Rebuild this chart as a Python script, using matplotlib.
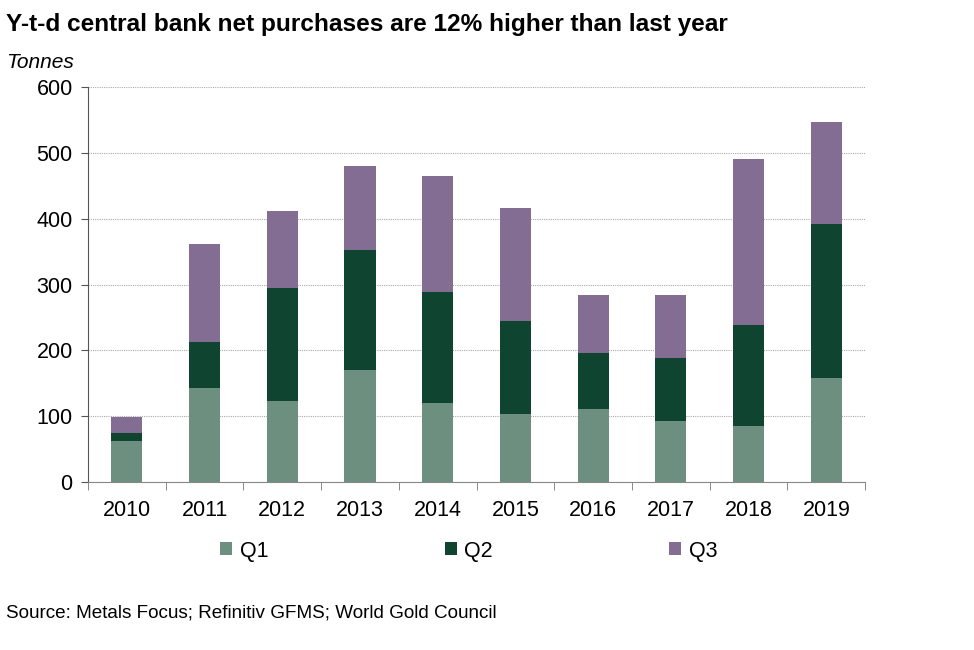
import numpy as np
import matplotlib
matplotlib.use("Agg")
import matplotlib.pyplot as plt
from matplotlib.ticker import FixedLocator

plt.rcParams["font.family"] = ["Liberation Sans", "DejaVu Sans"]

# -------------------------
# Data (tonnes)
# -------------------------
years = ["2010", "2011", "2012", "2013", "2014", "2015", "2016", "2017", "2018", "2019"]
q1 = [62, 143, 123, 170, 120, 103, 111, 93, 85, 158]
q2 = [12, 70, 172, 183, 169, 142, 85, 95, 154, 234]
q3 = [25, 149, 117, 127, 176, 171, 88, 96, 252, 155]

col_q1 = "#6d8f7f"
col_q2 = "#0e4430"
col_q3 = "#836d93"

fig = plt.figure(figsize=(9.74, 6.5), dpi=100)
ax = fig.add_axes([0.0903, 0.2585, 0.798, 0.6075])

x = np.arange(len(years))
w = 0.4
b2 = np.array(q1)
b3 = b2 + np.array(q2)
ax.bar(x, q1, w, color=col_q1, label="Q1", zorder=3)
ax.bar(x, q2, w, bottom=b2, color=col_q2, label="Q2", zorder=3)
ax.bar(x, q3, w, bottom=b3, color=col_q3, label="Q3", zorder=3)

ax.set_xlim(-0.5, len(years) - 0.5)
ax.set_ylim(0, 600)
ax.set_yticks(range(0, 601, 100))
ax.set_xticks(x)
ax.set_xticklabels(years)
ax.xaxis.set_minor_locator(FixedLocator(np.arange(-0.5, len(years), 1.0)))
ax.tick_params(axis="x", which="major", length=0, pad=13, labelsize=15.5)
ax.tick_params(axis="x", which="minor", length=6, color="#777777", direction="out")
ax.tick_params(axis="y", length=5, color="#555555", labelsize=15.5, pad=6)

ax.grid(axis="y", color="#aaaaaa", linestyle=(0, (1, 1)), linewidth=0.8, zorder=0)
for s in ["top", "right"]:
    ax.spines[s].set_visible(False)
ax.spines["left"].set_color("#555555")
ax.spines["bottom"].set_color("#888888")

fig.text(0.006, 0.963, "Y-t-d central bank net purchases are 12% higher than last year",
         fontsize=17.6, fontweight="bold", va="center", ha="left")
fig.text(0.006, 0.904, "Tonnes", fontsize=15, style="italic", va="center", ha="left")
fig.text(0.006, 0.057, "Source: Metals Focus; Refinitiv GFMS; World Gold Council",
         fontsize=13.6, va="center", ha="left")

leg = ax.legend(loc="center", bbox_to_anchor=(0.49, -0.175), ncol=3, frameon=False,
                fontsize=15.5, handlelength=0.55, handleheight=0.55, handletextpad=0.35,
                columnspacing=8.2)

fig.savefig("out.png", dpi=100)
